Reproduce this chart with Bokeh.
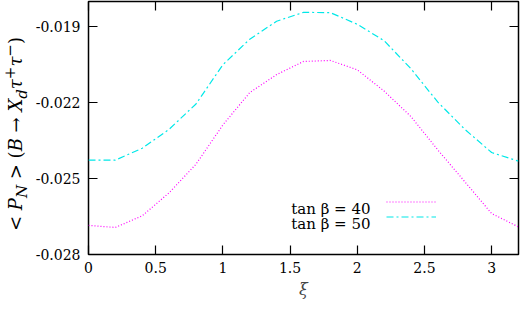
from bokeh.plotting import figure
from bokeh.layouts import row
from bokeh.models import (Range1d, LinearAxis, FixedTicker, PrintfTickFormatter, CustomJSTickFormatter,
                          Label, Legend, LegendItem, ColumnDataSource, Div)
from bokeh.embed import file_html
from bokeh.resources import INLINE

# ---- data ----
xi = [0.0, 0.2, 0.4, 0.6, 0.8, 1.0, 1.2, 1.4, 1.6, 1.8, 2.0, 2.2, 2.4, 2.6, 2.8, 3.0, 3.2]
pn_tan40 = [-0.02685, -0.02693, -0.02647, -0.02556, -0.02443, -0.02288, -0.02160, -0.02089,
            -0.02037, -0.02033, -0.02070, -0.02154, -0.02255, -0.02387, -0.02512, -0.02638, -0.02691]
pn_tan50 = [-0.02427, -0.02427, -0.02380, -0.02305, -0.02205, -0.02050, -0.01949, -0.01878,
            -0.01843, -0.01844, -0.01890, -0.01955, -0.02066, -0.02198, -0.02305, -0.02397, -0.02431]
x_ticks = [0, 0.5, 1, 1.5, 2, 2.5, 3]
y_ticks = [-0.028, -0.025, -0.022, -0.019]
legend_labels = ["tan β = 40", "tan β = 50"]

FONT = "DejaVu Serif"
FS = "14px"
DIV_W = 22

p = figure(width=510 - DIV_W, height=301, output_backend="svg", toolbar_location=None,
           x_range=Range1d(0, 3.2), y_range=Range1d(-0.028, -0.018),
           x_axis_location=None, y_axis_location=None)
p.min_border_left = 56
p.min_border_right = 2
p.min_border_top = 1
p.min_border_bottom = 41
p.xgrid.visible = False
p.ygrid.visible = False
p.outline_line_color = "black"
p.outline_line_width = 1.5
p.background_fill_color = "white"
p.border_fill_color = "white"


def style_axis(ax, labels=True):
    ax.major_tick_in = 9
    ax.major_tick_out = 0
    ax.minor_tick_line_color = None
    ax.axis_line_color = None
    ax.major_tick_line_color = "black"
    ax.major_tick_line_width = 1.2
    ax.major_label_text_font = FONT
    ax.major_label_text_font_size = FS
    ax.major_label_text_color = "black"
    if not labels:
        ax.formatter = CustomJSTickFormatter(code="return ''")
        ax.major_label_standoff = 0


xb = LinearAxis(ticker=FixedTicker(ticks=x_ticks))
style_axis(xb)
xb.major_label_standoff = 7
xb.axis_label = "ξ"
xb.axis_label_text_font = FONT
xb.axis_label_text_font_size = "16px"
xb.axis_label_text_font_style = "italic"
xb.axis_label_standoff = 4
p.add_layout(xb, "below")

yl = LinearAxis(ticker=FixedTicker(ticks=y_ticks), formatter=PrintfTickFormatter(format="%.3f"))
style_axis(yl)
yl.major_label_standoff = 8
p.add_layout(yl, "left")

xa = LinearAxis(ticker=FixedTicker(ticks=x_ticks))
style_axis(xa, labels=False)
p.add_layout(xa, "above")
yr = LinearAxis(ticker=FixedTicker(ticks=y_ticks))
style_axis(yr, labels=False)
p.add_layout(yr, "right")

src = ColumnDataSource(dict(xi=xi, a=pn_tan40, b=pn_tan50))
r40 = p.line("xi", "a", source=src, line_color="#ff00ff", line_width=1.2, line_dash="1 2")
r50 = p.line("xi", "b", source=src, line_color="#00e8e8", line_width=1.2, line_dash="7 3 2 3")

# legend: samples drawn by Bokeh, texts to their left as in the original
leg = Legend(items=[LegendItem(label=" ", renderers=[r40]), LegendItem(label=" ", renderers=[r50])],
             location=(298, 30), glyph_width=50, glyph_height=15, label_height=15, label_width=1,
             spacing=0, padding=0, margin=0, border_line_color=None, background_fill_alpha=0,
             label_text_font_size="1px")
p.add_layout(leg, "center")

FL, FB = 86, 268
for i, t in enumerate(legend_labels):
    p.add_layout(Label(x=0, y=-0.028, x_offset=368 - FL, y_offset=FB - (222 + 15 * i), text=t,
                       text_align="right", text_baseline="alphabetic", text_font=FONT,
                       text_font_size="15px", text_color="black"))

ylabel_html = (
    '<div style="position:relative;width:%dpx;height:301px;">'
    '<span style="position:absolute;left:12px;top:129px;transform:translate(-50%%,-50%%) rotate(-90deg);'
    "white-space:nowrap;font-family:'DejaVu Serif',serif;font-size:18px;color:black;\">"
    '&lt;&nbsp;<i>P</i><sub><i>N</i></sub>&nbsp;&gt;&nbsp;(<i>B</i>&nbsp;&#8594;&nbsp;<i>X</i><sub><i>d</i></sub>'
    '<i>&#964;</i><sup>+</sup><i>&#964;</i><sup>&#8722;</sup>)</span></div>' % DIV_W
)
ydiv = Div(text=ylabel_html, width=DIV_W, height=301)

open("out.html", "w").write(file_html(row(ydiv, p), INLINE))
